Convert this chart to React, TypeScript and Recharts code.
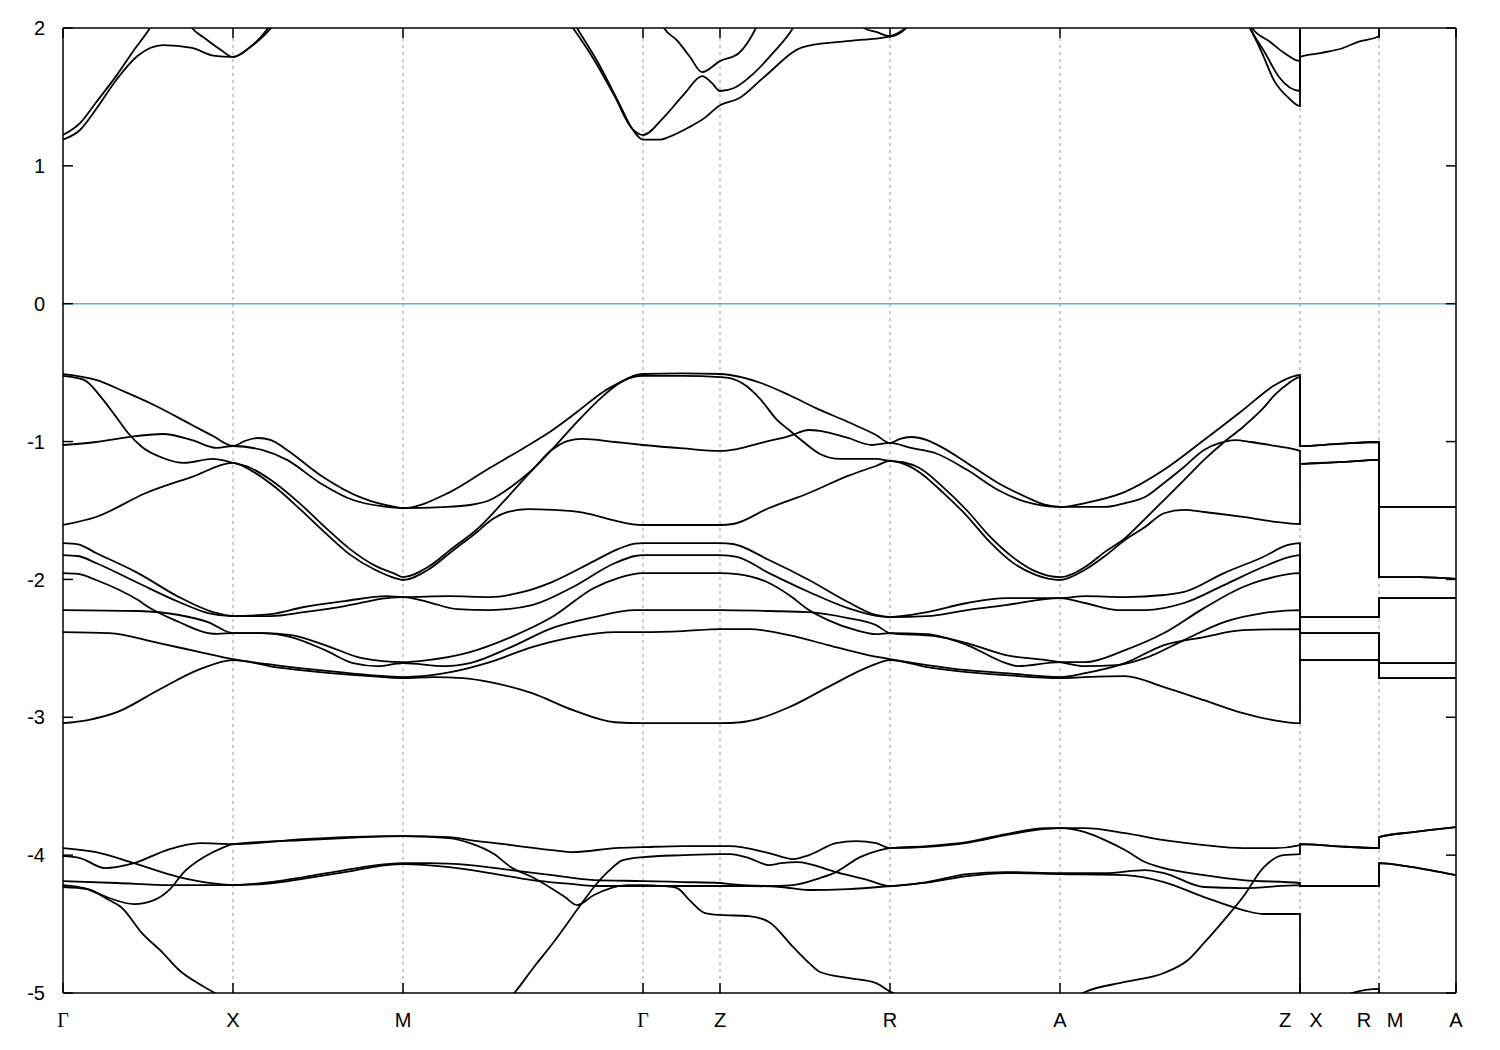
import { LineChart, Line, XAxis, YAxis, ReferenceLine } from 'recharts';

// path coordinate of each high-symmetry point and its label
const kTicks = [0, 170, 340, 580, 657, 827, 997, 1237, 1316, 1393];
const kLabels = ['Γ', 'X', 'M', 'Γ', 'Z', 'R', 'A', 'Z|X', 'R|M', 'A'];
const eTicks = [-5, -4, -3, -2, -1, 0, 1, 2];
const fermiLevel = 0;

type Pt = [number, number];

// conduction bands (k, energy in eV)
const cb1: Pt[] = [
  [0, 1.19], [17, 1.26], [33, 1.41], [54, 1.63], [75, 1.8], [100, 1.876], [129, 1.855], [150, 1.8], [170, 1.79],
  [187, 1.86], [208, 2.0], [230, 2.25], [340, 2.6], [490, 2.3], [514, 2.0], [535, 1.75], [556, 1.455], [570, 1.26],
  [580, 1.19], [597, 1.19], [606, 1.21], [626, 1.28], [642, 1.35], [657, 1.44], [676, 1.49], [701, 1.644],
  [740, 1.862], [774, 1.898], [800, 1.915], [827, 1.94], [843, 2.0], [870, 2.2], [997, 2.6], [1160, 2.3],
  [1187, 2.0], [1199, 1.82], [1211, 1.62], [1226, 1.49], [1237, 1.434],
  [1237, 1.79], [1259, 1.82], [1280, 1.855], [1295, 1.9], [1316, 1.94], [1316, 2.3], [1393, 2.3],
];
const cb2: Pt[] = [
  [0, 1.224], [17, 1.31], [33, 1.46], [54, 1.66], [70, 1.83], [87, 2.0], [110, 2.3], [340, 2.8], [480, 2.3],
  [510, 2.0], [531, 1.77], [552, 1.5], [568, 1.28], [580, 1.224], [601, 1.354], [622, 1.528], [639, 1.651],
  [649, 1.6], [657, 1.543], [671, 1.565], [691, 1.673], [710, 1.819], [730, 2.0], [750, 2.3], [997, 2.9],
  [1170, 2.3], [1187, 2.0], [1202, 1.82], [1216, 1.644], [1237, 1.543],
  [1237, 2.3], [1316, 2.4], [1316, 2.6], [1393, 2.6],
];
const cb3: Pt[] = [
  [0, 2.6], [110, 2.3], [129, 2.0], [141, 1.93], [158, 1.84], [170, 1.79], [187, 1.86], [205, 2.0], [225, 2.3],
  [340, 2.8], [585, 2.3], [601, 2.0], [614, 1.91], [627, 1.79], [639, 1.68], [657, 1.76], [676, 1.819],
  [693, 2.0], [710, 2.3], [780, 2.3], [801, 2.0], [814, 1.97], [827, 1.94], [843, 2.0], [860, 2.2], [997, 2.8],
  [1170, 2.3], [1189, 2.0], [1207, 1.9], [1221, 1.82], [1237, 1.76],
  [1237, 2.4], [1316, 2.5], [1316, 2.7], [1393, 2.7],
];

// upper valence bands
const vbT1: Pt[] = [
  [0, -0.51], [33, -0.553], [62, -0.64], [91, -0.735], [129, -0.88], [150, -0.96], [170, -1.032], [182, -0.995],
  [195, -0.974], [208, -0.99], [224, -1.061], [257, -1.242], [299, -1.409], [332, -1.474], [340, -1.482],
  [386, -1.37], [427, -1.19], [460, -1.05], [489, -0.92], [515, -0.78], [540, -0.64], [560, -0.56], [572, -0.52],
  [580, -0.51], [620, -0.505], [657, -0.51], [667, -0.517], [698, -0.575], [726, -0.662], [753, -0.757],
  [785, -0.858], [813, -0.952], [827, -1.01], [837, -0.98], [848, -0.967], [864, -0.989], [880, -1.046],
  [904, -1.155], [935, -1.3], [963, -1.402], [983, -1.46], [997, -1.474], [1022, -1.446], [1062, -1.365],
  [1101, -1.205], [1141, -0.989], [1180, -0.771], [1212, -0.589], [1228, -0.532], [1237, -0.517],
  [1237, -1.032], [1275, -1.017], [1316, -1.003], [1316, -1.474], [1393, -1.474],
];
const vbT2: Pt[] = [
  [0, -1.025], [33, -1.003], [65, -0.967], [100, -0.945], [129, -0.989], [154, -1.046], [170, -1.032],
  [199, -1.061], [224, -1.133], [257, -1.3], [290, -1.424], [320, -1.47], [340, -1.482], [380, -1.475],
  [407, -1.46], [427, -1.424], [448, -1.329], [469, -1.205], [489, -1.06], [505, -0.995], [519, -0.981],
  [552, -1.003], [580, -1.025], [620, -1.05], [657, -1.068], [674, -1.054], [698, -1.01], [726, -0.96],
  [746, -0.916], [757, -0.923], [785, -0.974], [809, -1.025], [827, -1.01], [848, -1.046], [872, -1.083],
  [904, -1.205], [935, -1.351], [963, -1.438], [997, -1.474], [1042, -1.474], [1062, -1.446], [1082, -1.402],
  [1101, -1.3], [1121, -1.184], [1141, -1.061], [1157, -1.01], [1172, -0.989], [1188, -1.003], [1212, -1.032],
  [1237, -1.068],
  [1237, -1.162], [1280, -1.148], [1316, -1.133], [1316, -1.983], [1357, -1.983], [1393, -1.997],
];
const vbT3: Pt[] = [
  [0, -0.524], [21, -0.553], [38, -0.677], [52, -0.81], [65, -0.938], [79, -1.039], [100, -1.119], [121, -1.155],
  [150, -1.126], [170, -1.155], [187, -1.19], [212, -1.3], [237, -1.45], [262, -1.62], [287, -1.78], [312, -1.9],
  [332, -1.96], [340, -1.983], [365, -1.91], [390, -1.77], [415, -1.63], [440, -1.44], [465, -1.24], [490, -1.05],
  [515, -0.85], [540, -0.67], [560, -0.56], [580, -0.524], [620, -0.524], [657, -0.532], [667, -0.539],
  [682, -0.59], [698, -0.698], [714, -0.843], [726, -0.916], [740, -1.0], [757, -1.09], [777, -1.126],
  [813, -1.126], [827, -1.14], [840, -1.15], [856, -1.19], [880, -1.33], [904, -1.5], [927, -1.69], [950, -1.84],
  [972, -1.94], [997, -1.983], [1022, -1.91], [1042, -1.8], [1062, -1.7], [1082, -1.56], [1101, -1.424],
  [1121, -1.28], [1141, -1.133], [1160, -1.01], [1180, -0.894], [1200, -0.76], [1212, -0.66], [1225, -0.58],
  [1237, -0.532],
  [1237, -1.032], [1275, -1.017], [1316, -1.003], [1316, -1.474], [1393, -1.474],
];
const vbT4: Pt[] = [
  [0, -1.605], [33, -1.547], [83, -1.373], [129, -1.256], [170, -1.155], [187, -1.205], [212, -1.33], [237, -1.49],
  [262, -1.66], [287, -1.82], [312, -1.93], [332, -1.99], [340, -2.004], [365, -1.93], [390, -1.79], [415, -1.65],
  [430, -1.56], [445, -1.51], [465, -1.49], [490, -1.496], [520, -1.515], [550, -1.57], [570, -1.6], [580, -1.605],
  [620, -1.605], [657, -1.605], [670, -1.598], [706, -1.482], [746, -1.373], [785, -1.249], [813, -1.177],
  [827, -1.14], [840, -1.16], [856, -1.22], [880, -1.37], [904, -1.54], [927, -1.73], [950, -1.88], [972, -1.965],
  [997, -2.004], [1022, -1.93], [1042, -1.83], [1062, -1.714], [1082, -1.62], [1101, -1.52], [1121, -1.496],
  [1141, -1.511], [1180, -1.547], [1210, -1.58], [1237, -1.598],
  [1237, -1.162], [1280, -1.148], [1316, -1.133], [1316, -1.983], [1357, -1.983], [1393, -1.997],
];

// middle valence bands
const vbG1: Pt[] = [
  [0, -1.736], [15, -1.745], [33, -1.808], [75, -1.954], [116, -2.128], [150, -2.237], [170, -2.266],
  [208, -2.251], [241, -2.2], [282, -2.157], [324, -2.121], [340, -2.128], [386, -2.121], [427, -2.128],
  [460, -2.091], [489, -2.019], [531, -1.867], [555, -1.78], [572, -1.74], [580, -1.736], [620, -1.736],
  [657, -1.736], [670, -1.743], [706, -1.859], [746, -2.004], [785, -2.164], [813, -2.258], [827, -2.273],
  [864, -2.237], [904, -2.171], [943, -2.135], [997, -2.135], [1022, -2.121], [1062, -2.128], [1101, -2.113],
  [1121, -2.091], [1161, -1.954], [1200, -1.837], [1225, -1.75], [1237, -1.736],
  [1237, -2.273], [1316, -2.273], [1316, -2.135], [1393, -2.135],
];
const vbG2: Pt[] = [
  [0, -1.823], [15, -1.83], [33, -1.881], [75, -2.026], [116, -2.164], [145, -2.244], [170, -2.266],
  [208, -2.266], [241, -2.237], [282, -2.193], [324, -2.135], [340, -2.128], [365, -2.164], [394, -2.215],
  [427, -2.222], [469, -2.186], [510, -2.055], [552, -1.881], [572, -1.83], [580, -1.823], [620, -1.823],
  [657, -1.823], [674, -1.837], [706, -1.954], [746, -2.091], [785, -2.208], [827, -2.273], [864, -2.266],
  [904, -2.222], [943, -2.186], [997, -2.135], [1022, -2.171], [1054, -2.222], [1082, -2.222], [1121, -2.171],
  [1161, -2.041], [1200, -1.91], [1225, -1.84], [1237, -1.823],
  [1237, -2.273], [1316, -2.273], [1316, -2.135], [1393, -2.135],
];
const vbG3: Pt[] = [
  [0, -1.954], [15, -1.96], [33, -2.004], [75, -2.15], [87, -2.208], [116, -2.309], [145, -2.389], [155, -2.395],
  [170, -2.389], [199, -2.39], [228, -2.404], [262, -2.476], [299, -2.571], [340, -2.6], [365, -2.585],
  [407, -2.527], [448, -2.418], [489, -2.273], [531, -2.062], [555, -1.99], [580, -1.954], [620, -1.954],
  [657, -1.954], [674, -1.961], [706, -2.026], [726, -2.113], [746, -2.222], [765, -2.295], [793, -2.368],
  [813, -2.397], [827, -2.389], [864, -2.397], [904, -2.476], [943, -2.607], [955, -2.629], [997, -2.6],
  [1022, -2.6], [1062, -2.513], [1101, -2.389], [1141, -2.208], [1180, -2.055], [1200, -2.004], [1237, -1.954],
  [1237, -2.389], [1316, -2.389], [1316, -2.607], [1393, -2.607],
];
const vbG4: Pt[] = [
  [0, -2.222], [75, -2.229], [116, -2.258], [145, -2.309], [170, -2.389], [199, -2.389], [228, -2.418],
  [262, -2.513], [290, -2.607], [315, -2.629], [340, -2.607], [382, -2.629], [407, -2.607], [448, -2.491],
  [489, -2.353], [531, -2.273], [572, -2.222], [580, -2.222], [620, -2.222], [657, -2.222], [706, -2.229],
  [746, -2.237], [785, -2.28], [813, -2.331], [827, -2.389], [872, -2.411], [904, -2.462], [943, -2.549],
  [983, -2.585], [997, -2.6], [1022, -2.629], [1054, -2.621], [1082, -2.571], [1121, -2.44], [1161, -2.309],
  [1200, -2.244], [1237, -2.222],
  [1237, -2.389], [1316, -2.389], [1316, -2.607], [1393, -2.607],
];
const vbG5: Pt[] = [
  [0, -2.382], [46, -2.389], [96, -2.462], [137, -2.527], [170, -2.578], [212, -2.621], [257, -2.658],
  [307, -2.694], [340, -2.708], [382, -2.68], [427, -2.6], [469, -2.491], [510, -2.418], [552, -2.382],
  [580, -2.382], [620, -2.375], [657, -2.36], [686, -2.36], [726, -2.404], [765, -2.476], [805, -2.549],
  [827, -2.578], [864, -2.621], [904, -2.658], [943, -2.68], [997, -2.708], [1022, -2.68], [1062, -2.607],
  [1101, -2.476], [1141, -2.418], [1180, -2.368], [1237, -2.36],
  [1237, -2.585], [1316, -2.585], [1316, -2.716], [1393, -2.716],
];
const vbG6: Pt[] = [
  [0, -3.043], [25, -3.02], [54, -2.963], [96, -2.8], [137, -2.651], [170, -2.585], [212, -2.636],
  [257, -2.672], [307, -2.701], [340, -2.716], [370, -2.708], [400, -2.716], [427, -2.745], [469, -2.825],
  [510, -2.948], [552, -3.036], [580, -3.043], [620, -3.043], [657, -3.043], [678, -3.036], [726, -2.927],
  [765, -2.781], [805, -2.636], [827, -2.585], [864, -2.636], [904, -2.672], [943, -2.694], [997, -2.716],
  [1022, -2.708], [1062, -2.701], [1101, -2.781], [1141, -2.876], [1180, -2.97], [1210, -3.02], [1237, -3.043],
  [1237, -2.585], [1316, -2.585], [1316, -2.716], [1393, -2.716],
];

// lower valence bands
const vbH1: Pt[] = [
  [0, -3.949], [33, -3.978], [71, -4.058], [116, -4.159], [150, -4.205], [170, -4.217], [208, -4.195],
  [241, -4.159], [282, -4.108], [324, -4.065], [340, -4.058], [365, -4.058], [407, -4.072], [448, -4.108],
  [489, -4.145], [531, -4.181], [580, -4.188], [620, -4.195], [657, -4.202], [667, -4.21], [706, -4.224],
  [730, -4.217], [757, -4.166], [773, -4.123], [797, -4.014], [817, -3.963], [827, -3.949], [864, -3.934],
  [904, -3.905], [943, -3.847], [983, -3.804], [997, -3.804], [1022, -3.804], [1062, -3.84], [1101, -3.891],
  [1141, -3.927], [1180, -3.949], [1212, -3.949], [1237, -3.927],
  [1237, -3.92], [1270, -3.934], [1316, -3.949], [1316, -3.869], [1350, -3.833], [1393, -3.796],
];
const vbH2: Pt[] = [
  [0, -4.007], [17, -4.021], [42, -4.094], [71, -4.058], [104, -3.963], [137, -3.913], [170, -3.92],
  [241, -3.884], [282, -3.869], [340, -3.862], [386, -3.869], [407, -3.891], [448, -3.927], [489, -3.963],
  [510, -3.978], [552, -3.949], [580, -3.942], [620, -3.934], [657, -3.934], [667, -3.934], [706, -3.985],
  [730, -4.029], [746, -4.0], [773, -3.913], [793, -3.898], [813, -3.913], [827, -3.949], [864, -3.94],
  [904, -3.91], [943, -3.855], [983, -3.81], [997, -3.804], [1022, -3.833], [1042, -3.891], [1062, -3.963],
  [1082, -4.05], [1101, -4.094], [1141, -4.145], [1180, -4.181], [1237, -4.202],
  [1237, -4.224], [1316, -4.224], [1316, -4.058], [1343, -4.079], [1367, -4.108], [1393, -4.145],
];
const vbH3: Pt[] = [
  [0, -4.188], [54, -4.202], [108, -4.217], [170, -4.217], [208, -4.205], [241, -4.17], [282, -4.123],
  [324, -4.072], [340, -4.065], [386, -4.087], [427, -4.13], [469, -4.181], [510, -4.21], [531, -4.224],
  [580, -4.224], [620, -4.224], [657, -4.224], [686, -4.224], [718, -4.231], [746, -4.253], [785, -4.246],
  [827, -4.224], [864, -4.2], [904, -4.152], [943, -4.13], [997, -4.137], [1062, -4.145], [1101, -4.195],
  [1141, -4.304], [1180, -4.398], [1200, -4.427], [1237, -4.427],
  [1237, -5.2], [1289, -5.0], [1316, -4.97], [1316, -5.3], [1393, -5.3],
];
const vbH4: Pt[] = [
  [0, -4.217], [21, -4.239], [46, -4.311], [71, -4.355], [91, -4.326], [108, -4.239], [120, -4.13],
  [141, -4.014], [160, -3.945], [170, -3.92], [241, -3.89], [282, -3.876], [340, -3.862], [386, -3.876],
  [407, -3.913], [431, -3.992], [448, -4.087], [469, -4.159], [502, -4.304], [514, -4.362], [531, -4.289],
  [564, -4.217], [580, -4.217], [600, -4.224], [614, -4.239], [627, -4.33], [642, -4.42], [657, -4.434],
  [686, -4.442], [706, -4.485], [730, -4.666], [746, -4.782], [757, -4.848], [785, -4.891], [813, -4.928],
  [827, -4.99], [850, -5.05], [930, -5.2], [997, -5.1], [1022, -4.993], [1062, -4.92], [1101, -4.855],
  [1125, -4.761], [1141, -4.637], [1161, -4.471], [1180, -4.304], [1200, -4.094], [1220, -4.0], [1237, -3.992],
  [1237, -3.92], [1270, -3.934], [1316, -3.949], [1316, -3.869], [1350, -3.833], [1393, -3.796],
];
const vbH5: Pt[] = [
  [0, -4.231], [25, -4.246], [46, -4.326], [58, -4.376], [79, -4.565], [100, -4.71], [116, -4.833],
  [135, -4.93], [150, -4.993], [170, -5.08], [250, -5.3], [340, -5.4], [420, -5.2], [452, -4.993],
  [470, -4.82], [490, -4.637], [519, -4.347], [531, -4.231], [545, -4.12], [560, -4.036], [580, -4.014],
  [620, -4.0], [657, -3.992], [667, -3.992], [686, -4.021], [706, -4.072], [718, -4.058], [734, -4.05],
  [773, -4.123], [805, -4.181], [827, -4.224], [864, -4.195], [904, -4.137], [943, -4.123], [997, -4.13],
  [1042, -4.13], [1082, -4.108], [1101, -4.13], [1141, -4.231], [1180, -4.239], [1237, -4.217],
  [1237, -4.224], [1316, -4.224], [1316, -4.058], [1343, -4.079], [1367, -4.108], [1393, -4.145],
];

const bands: Pt[][] = [
  cb1, cb2, cb3,
  vbT1, vbT2, vbT3, vbT4,
  vbG1, vbG2, vbG3, vbG4, vbG5, vbG6,
  vbH1, vbH2, vbH3, vbH4, vbH5,
];

const sans = '"Liberation Sans", Arial, Helvetica, sans-serif';
const serif = '"Liberation Serif", "Times New Roman", serif';

function KTick(props: any) {
  const { x, y, payload } = props;
  const label: string = kLabels[kTicks.indexOf(payload.value)] ?? '';
  const parts = label.split('|');
  const txt = (s: string, cx: number) => (
    <text
      key={s + cx}
      x={cx}
      y={y}
      dy={10}
      textAnchor="middle"
      fontSize={20}
      fill="#000"
      fontFamily={s === 'Γ' ? serif : sans}
    >
      {s}
    </text>
  );
  if (parts.length === 2) {
    return (
      <g>
        {txt(parts[0], x - 15)}
        {txt(parts[1], x + 16)}
      </g>
    );
  }
  return <g>{txt(label, x)}</g>;
}

// mirrored axes keep their tick marks but show no text
const NoLabel = () => <g />;

export default function App() {
  const frame = { stroke: '#000', strokeWidth: 1.5 };
  return (
    <div style={{ position: 'absolute', left: 0, top: 0, background: '#fff' }}>
      <LineChart width={1500} height={1050} margin={{ top: 27, right: 43, bottom: 17, left: 13 }}>
        <XAxis
          dataKey="k"
          type="number"
          domain={[0, 1393]}
          allowDataOverflow
          ticks={kTicks}
          interval={0}
          tickSize={-10}
          tickMargin={34}
          height={40}
          axisLine={frame}
          tickLine={frame}
          tick={(p: any) => <KTick {...p} />}
        />
        <XAxis
          xAxisId="top"
          orientation="top"
          dataKey="k"
          type="number"
          domain={[0, 1393]}
          allowDataOverflow
          ticks={kTicks}
          interval={0}
          tickSize={-10}
          height={1}
          axisLine={frame}
          tickLine={frame}
          tick={NoLabel}
        />
        <YAxis
          type="number"
          domain={[-5, 2]}
          allowDataOverflow
          ticks={eTicks}
          interval={0}
          tickSize={-10}
          tickMargin={28}
          width={50}
          axisLine={frame}
          tickLine={frame}
          tick={{ fill: '#000', fontSize: 20, fontFamily: sans }}
        />
        <YAxis
          yAxisId="right"
          orientation="right"
          type="number"
          domain={[-5, 2]}
          allowDataOverflow
          ticks={eTicks}
          interval={0}
          tickSize={-10}
          width={1}
          axisLine={frame}
          tickLine={frame}
          tick={NoLabel}
        />
        {kTicks.slice(1, -1).map((k) => (
          <ReferenceLine key={k} x={k} stroke="#999" strokeDasharray="3 4" strokeWidth={1} />
        ))}
        <ReferenceLine y={fermiLevel} stroke="#56b4e9" strokeWidth={1.6} />
        {bands.map((b, i) => (
          <Line
            key={i}
            data={b.map(([k, e]) => ({ k, e }))}
            dataKey="e"
            type="monotone"
            stroke="#000"
            strokeWidth={1.8}
            dot={false}
            activeDot={false}
            isAnimationActive={false}
          />
        ))}
      </LineChart>
    </div>
  );
}
